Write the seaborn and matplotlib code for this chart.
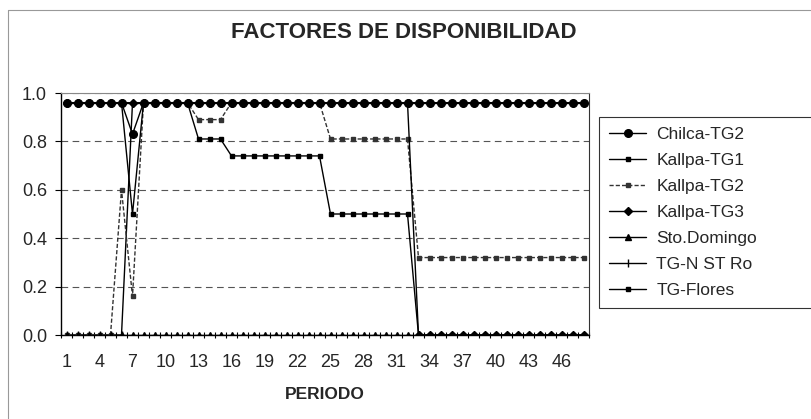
import matplotlib
matplotlib.use('Agg')
import matplotlib.pyplot as plt
import seaborn as sns
import pandas as pd
from matplotlib.lines import Line2D
from matplotlib.ticker import FixedLocator, FormatStrFormatter

# datos (48 periodos de media hora)
periodo = list(range(1, 49))

chilca_tg2 = [0.96, 0.96, 0.96, 0.96, 0.96, 0.96, 0.83, 0.96, 0.96, 0.96, 0.96, 0.96,
              0.96, 0.96, 0.96, 0.96, 0.96, 0.96, 0.96, 0.96, 0.96, 0.96, 0.96, 0.96,
              0.96, 0.96, 0.96, 0.96, 0.96, 0.96, 0.96, 0.96, 0.96, 0.96, 0.96, 0.96,
              0.96, 0.96, 0.96, 0.96, 0.96, 0.96, 0.96, 0.96, 0.96, 0.96, 0.96, 0.96]
kallpa_tg1 = [0.96, 0.96, 0.96, 0.96, 0.96, 0.96, 0.50, 0.96, 0.96, 0.96, 0.96, 0.96,
              0.81, 0.81, 0.81, 0.74, 0.74, 0.74, 0.74, 0.74, 0.74, 0.74, 0.74, 0.74,
              0.50, 0.50, 0.50, 0.50, 0.50, 0.50, 0.50, 0.50, 0.00, 0.00, 0.00, 0.00,
              0.00, 0.00, 0.00, 0.00, 0.00, 0.00, 0.00, 0.00, 0.00, 0.00, 0.00, 0.00]
kallpa_tg2 = [0.00, 0.00, 0.00, 0.00, 0.00, 0.60, 0.16, 0.96, 0.96, 0.96, 0.96, 0.96,
              0.89, 0.89, 0.89, 0.96, 0.96, 0.96, 0.96, 0.96, 0.96, 0.96, 0.96, 0.96,
              0.81, 0.81, 0.81, 0.81, 0.81, 0.81, 0.81, 0.81, 0.32, 0.32, 0.32, 0.32,
              0.32, 0.32, 0.32, 0.32, 0.32, 0.32, 0.32, 0.32, 0.32, 0.32, 0.32, 0.32]
kallpa_tg3 = [0.96, 0.96, 0.96, 0.96, 0.96, 0.96, 0.96, 0.96, 0.96, 0.96, 0.96, 0.96,
              0.96, 0.96, 0.96, 0.96, 0.96, 0.96, 0.96, 0.96, 0.96, 0.96, 0.96, 0.96,
              0.96, 0.96, 0.96, 0.96, 0.96, 0.96, 0.96, 0.96, 0.00, 0.00, 0.00, 0.00,
              0.00, 0.00, 0.00, 0.00, 0.00, 0.00, 0.00, 0.00, 0.00, 0.00, 0.00, 0.00]
sto_domingo = [0.00, 0.00, 0.00, 0.00, 0.00, 0.00, 0.00, 0.00, 0.00, 0.00, 0.00, 0.00,
               0.00, 0.00, 0.00, 0.00, 0.00, 0.00, 0.00, 0.00, 0.00, 0.00, 0.00, 0.00,
               0.00, 0.00, 0.00, 0.00, 0.00, 0.00, 0.00, 0.00, 0.00, 0.00, 0.00, 0.00,
               0.00, 0.00, 0.00, 0.00, 0.00, 0.00, 0.00, 0.00, 0.00, 0.00, 0.00, 0.00]
tg_n_st_ro = [0.00, 0.00, 0.00, 0.00, 0.00, 0.00, 0.96, 0.96, 0.96, 0.96, 0.96, 0.96,
              0.96, 0.96, 0.96, 0.96, 0.96, 0.96, 0.96, 0.96, 0.96, 0.96, 0.96, 0.96,
              0.96, 0.96, 0.96, 0.96, 0.96, 0.96, 0.96, 0.96, 0.96, 0.96, 0.96, 0.96,
              0.96, 0.96, 0.96, 0.96, 0.96, 0.96, 0.96, 0.96, 0.96, 0.96, 0.96, 0.96]
tg_flores = [0.96, 0.96, 0.96, 0.96, 0.96, 0.96, 0.96, 0.96, 0.96, 0.96, 0.96, 0.96,
             0.96, 0.96, 0.96, 0.96, 0.96, 0.96, 0.96, 0.96, 0.96, 0.96, 0.96, 0.96,
             0.96, 0.96, 0.96, 0.96, 0.96, 0.96, 0.96, 0.96, 0.96, 0.96, 0.96, 0.96,
             0.96, 0.96, 0.96, 0.96, 0.96, 0.96, 0.96, 0.96, 0.96, 0.96, 0.96, 0.96]

x_labels = [1, 4, 7, 10, 13, 16, 19, 22, 25, 28, 31, 34, 37, 40, 43, 46]
y_labels = [0.0, 0.2, 0.4, 0.6, 0.8, 1.0]

df = pd.DataFrame({'PERIODO': periodo,
                   'Chilca-TG2': chilca_tg2,
                   'Kallpa-TG1': kallpa_tg1,
                   'Kallpa-TG2': kallpa_tg2,
                   'Kallpa-TG3': kallpa_tg3,
                   'Sto.Domingo': sto_domingo,
                   'TG-N ST Ro': tg_n_st_ro,
                   'TG-Flores': tg_flores})

# marker, size, linestyle, color, zorder
estilos = {
    'Chilca-TG2': ('o', 5.5, '-', 'black', 9),
    'Kallpa-TG1': ('s', 2.5, '-', 'black', 6),
    'Kallpa-TG2': ('s', 3.0, (0, (3, 1.5)), '#333333', 5),
    'Kallpa-TG3': ('D', 4.0, '-', 'black', 8),
    'Sto.Domingo': ('^', 5.0, '-', 'black', 7),
    'TG-N ST Ro': ('|', 6.0, '-', 'black', 4),
    'TG-Flores': ('s', 2.5, '-', 'black', 3),
}

sns.set_style('white')
plt.rcParams['font.family'] = ['Liberation Sans', 'DejaVu Sans']

fig = plt.figure(figsize=(8.11, 4.19), dpi=100)
ax = fig.add_axes([61 / 811, 1 - 335 / 419, (589 - 61) / 811, (335 - 93) / 419])

for name, (mk, ms, ls, col, zo) in estilos.items():
    sns.lineplot(data=df, x='PERIODO', y=name, ax=ax, label=name, color=col,
                 marker=mk, markersize=ms, linestyle=ls, linewidth=1.0,
                 markeredgecolor=col, markerfacecolor=col, markeredgewidth=1.0,
                 zorder=zo)

ax.set_xlim(0.5, 48.5)
ax.set_ylim(0, 1.0)
ax.xaxis.set_major_locator(FixedLocator(x_labels))
ax.xaxis.set_minor_locator(FixedLocator([p - 0.5 for p in periodo] + [48.5]))
ax.yaxis.set_major_locator(FixedLocator(y_labels))
ax.yaxis.set_major_formatter(FormatStrFormatter('%.1f'))
ax.tick_params(axis='x', which='major', length=0, pad=14, labelsize=13)
ax.tick_params(axis='x', which='minor', direction='inout', length=5, width=0.8,
               bottom=True, color='black')
ax.tick_params(axis='y', which='major', direction='out', length=4, width=0.8,
               left=True, pad=6, labelsize=13, color='black')

ax.yaxis.grid(True, linestyle=(0, (6, 4)), color='#555555', linewidth=0.8)
ax.xaxis.grid(False)
ax.set_axisbelow(True)

for s in ['left', 'bottom']:
    ax.spines[s].set_color('black')
    ax.spines[s].set_linewidth(1.0)
ax.spines['top'].set_color('#888888')
ax.spines['top'].set_linewidth(0.8)
ax.spines['right'].set_color('#333333')
ax.spines['right'].set_linewidth(0.8)

ax.set_ylabel('')
ax.set_xlabel('PERIODO', fontsize=12.5, fontweight='bold', labelpad=11)

fig.text(404 / 811, 1 - 32 / 419, 'FACTORES DE DISPONIBILIDAD', ha='center',
         va='center', fontsize=16, fontweight='bold')

leg = ax.legend(loc='upper left', bbox_to_anchor=(599 / 811, 1 - 121 / 419, (820 - 599) / 811, 0.01),
                bbox_transform=fig.transFigure, mode='expand', borderaxespad=0,
                fontsize=12.5, frameon=True, fancybox=False, handlelength=2.1,
                handletextpad=0.6, labelspacing=0.62, borderpad=0.6)
leg.get_frame().set_edgecolor('black')
leg.get_frame().set_linewidth(0.8)

# borde exterior del area del grafico
fig.add_artist(Line2D([8 / 811, 8 / 811], [0, 1 - 10 / 419], transform=fig.transFigure,
                      color='#999999', linewidth=0.8))
fig.add_artist(Line2D([8 / 811, 1], [1 - 10 / 419, 1 - 10 / 419], transform=fig.transFigure,
                      color='#999999', linewidth=0.8))

fig.savefig('out.png', dpi=100)
